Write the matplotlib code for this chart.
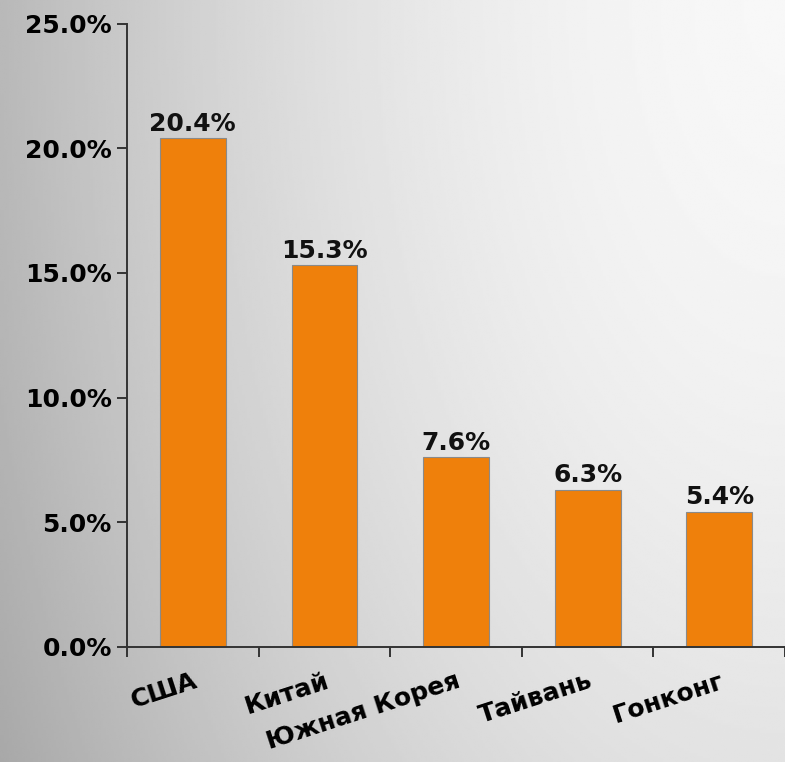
import numpy as np
import matplotlib
matplotlib.use("Agg")
import matplotlib.pyplot as plt
from matplotlib.ticker import FuncFormatter, FixedLocator

countries = ["США", "Китай", "Южная Корея", "Тайвань", "Гонконг"]
shares = [20.4, 15.3, 7.6, 6.3, 5.4]
y_ticks = [0, 5, 10, 15, 20, 25]

plt.rcParams['font.family'] = ['DejaVu Sans']
plt.rcParams['font.weight'] = 'bold'

fig = plt.figure(figsize=(7.85, 7.62), dpi=100)

# grey gradient background, lighter towards the top right corner
bg = fig.add_axes([0, 0, 1, 1], zorder=-1)
yy, xx = np.mgrid[0:1:300j, 0:1:300j]
dx = (1 - xx) * 785
dy = (1 - yy) * 762 / 1.8
d = np.sqrt(dx ** 2 + dy ** 2) / 892
shade = 0.97 - 0.31 * d ** 1.8
bg.imshow(shade, cmap='gray', vmin=0, vmax=1, origin='lower',
          extent=[0, 1, 0, 1], aspect='auto', interpolation='bilinear')
bg.set_axis_off()

ax = fig.add_axes([0.1618, 0.1513, 0.8382, 0.8176])
ax.patch.set_alpha(0)

x = np.arange(len(countries))
bars = ax.bar(x, shares, width=0.5, color='#EF800B', edgecolor='#8a8a8a', linewidth=0.8)
for b, v in zip(bars, shares):
    ax.annotate(f"{v:.1f}%", (b.get_x() + b.get_width() / 2, v), xytext=(0, 2),
                textcoords='offset points', ha='center', va='bottom',
                fontsize=18, fontweight='bold', color='#111111')

ax.set_xlim(-0.5, len(countries) - 0.5)
ax.set_ylim(0, 25)
ax.yaxis.set_major_locator(FixedLocator(y_ticks))
ax.yaxis.set_major_formatter(FuncFormatter(lambda v, p: f"{v:.1f}%"))

# ticks between categories, labels at category centres
ax.xaxis.set_major_locator(FixedLocator(np.arange(len(countries) + 1) - 0.5))
ax.xaxis.set_major_formatter(FuncFormatter(lambda v, p: ""))
ax.xaxis.set_minor_locator(FixedLocator(x))
ax.set_xticklabels(countries, minor=True)
ax.tick_params(axis='x', which='minor', length=0, pad=16)
for lbl in ax.get_xticklabels(minor=True):
    lbl.set_rotation(18)
    lbl.set_ha('right')
    lbl.set_va('top')
    lbl.set_rotation_mode('anchor')
    lbl.set_fontsize(18)
    lbl.set_fontweight('bold')

ax.tick_params(axis='both', which='major', length=7, width=1.4, color='#333333',
               labelsize=18, pad=4)
for lbl in ax.get_yticklabels():
    lbl.set_fontweight('bold')

for s in ['top', 'right']:
    ax.spines[s].set_visible(False)
for s in ['left', 'bottom']:
    ax.spines[s].set_color('#333333')
    ax.spines[s].set_linewidth(1.4)

fig.savefig("out.png", dpi=100)
